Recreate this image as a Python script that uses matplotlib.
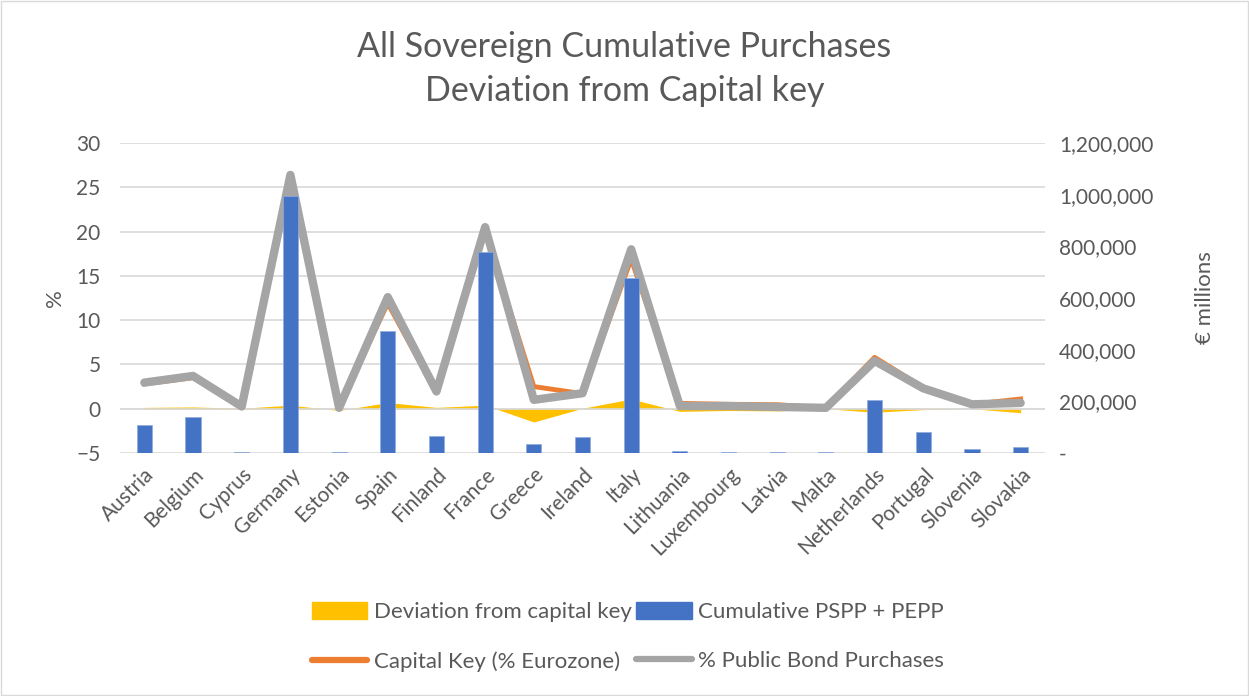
import matplotlib
matplotlib.use("Agg")
import matplotlib.pyplot as plt
import numpy as np
from matplotlib.ticker import FuncFormatter, FixedLocator
from matplotlib.patches import Patch
from matplotlib.lines import Line2D

countries = ["Austria", "Belgium", "Cyprus", "Germany", "Estonia", "Spain", "Finland",
             "France", "Greece", "Ireland", "Italy", "Lithuania", "Luxembourg", "Latvia",
             "Malta", "Netherlands", "Portugal", "Slovenia", "Slovakia"]
cumulative = [108000, 139000, 5000, 995000, 2000, 472000, 66000, 779000, 35000, 63000,
              678000, 7000, 5000, 5000, 2000, 205000, 81000, 15000, 23000]
capital_key = [2.8, 3.5, 0.2, 26.0, 0.3, 11.9, 1.8, 20.1, 2.5, 1.7, 16.9, 0.6, 0.5, 0.45,
               0.1, 5.8, 2.4, 0.5, 1.1]
public_pct = [2.95, 3.7, 0.25, 26.4, 0.1, 12.6, 1.95, 20.5, 1.0, 1.75, 18.0, 0.3, 0.3, 0.2,
              0.1, 5.4, 2.3, 0.5, 0.65]
deviation = [p - c for p, c in zip(public_pct, capital_key)]

left_ticks = [-5, 0, 5, 10, 15, 20, 25, 30]
right_ticks = [0, 200000, 400000, 600000, 800000, 1000000, 1200000]

text_col = "#595959"
fam = ["Lato", "DejaVu Sans"]

fig = plt.figure(figsize=(12.49, 6.96), dpi=100)
ax = fig.add_axes([120/1249, 1-453/696, 925/1249, 310/696])
ax2 = ax.twinx()

x = np.arange(len(countries))

ax2.bar(x, cumulative, width=0.31, color="#4472C4", edgecolor="#8FAADC", linewidth=0.5, zorder=2)
ax2.set_ylim(0, 1200000)

ax.set_zorder(ax2.get_zorder() - 1)
ax.patch.set_visible(False)
fig.patch.set_facecolor("white")

ax3 = ax.twinx()
ax3.set_ylim(-5, 30)
ax3.axis("off")
ax3.fill_between(x, 0, deviation, color="#FFC000", linewidth=0, zorder=1)
ax3.axhline(0, color="#D9D9D9", lw=1.2, zorder=2)
ax3.plot(x, capital_key, color="#ED7D31", lw=3.5, solid_joinstyle="round", zorder=3)
ax3.plot(x, public_pct, color="#A5A5A5", lw=6, solid_joinstyle="round",
         solid_capstyle="round", zorder=4)

ax.set_ylim(-5, 30)
ax.set_xlim(-0.5, len(countries) - 0.5)
ax.yaxis.set_major_locator(FixedLocator(left_ticks))
ax.grid(axis="y", color="#D9D9D9", lw=1.2)
ax.set_axisbelow(True)
ax2.yaxis.set_major_locator(FixedLocator(right_ticks))
ax2.yaxis.set_major_formatter(FuncFormatter(lambda v, p: "-" if v == 0 else f"{int(v):,}"))

ax.set_xticks(x)
ax.set_xticklabels(countries, rotation=45, ha="right", rotation_mode="anchor",
                   fontsize=15, color=text_col, family=fam)

for a in (ax, ax2):
    for s in a.spines.values():
        s.set_visible(False)
    a.tick_params(length=0, labelsize=15, colors=text_col)
    for lab in a.get_yticklabels():
        lab.set_family(fam)

ax.tick_params(axis="x", pad=8)
ax.tick_params(axis="y", pad=14)
ax2.tick_params(axis="y", pad=10)

ax.set_ylabel("%", fontsize=16, color=text_col, family=fam, labelpad=8)
ax2.set_ylabel("€ millions", fontsize=16, color=text_col, family=fam, labelpad=30)

fig.text(0.5, 1-47/696, "All Sovereign Cumulative Purchases", ha="center", va="center",
         fontsize=24.5, color=text_col, family=fam)
fig.text(0.5, 1-91/696, "Deviation from Capital key", ha="center", va="center",
         fontsize=24.5, color=text_col, family=fam)

handles = [Patch(color="#FFC000"),
           Line2D([], [], color="#ED7D31", lw=4.5, solid_capstyle="round"),
           Patch(color="#4472C4"),
           Line2D([], [], color="#A5A5A5", lw=4.5, solid_capstyle="round")]
labels = ["Deviation from capital key", "Capital Key (% Eurozone)",
          "Cumulative PSPP + PEPP", "% Public Bond Purchases"]
leg = fig.legend(handles, labels, ncol=2, loc="center", bbox_to_anchor=(628/1249, 1-637/696),
                 frameon=False, handlelength=2.5, handleheight=0.8, handletextpad=0.3,
                 columnspacing=0.2, labelspacing=1.3, prop={"family": fam, "size": 16})
for t in leg.get_texts():
    t.set_color(text_col)

fig.add_artist(plt.Rectangle((0.001, 0.001), 0.998, 0.998, transform=fig.transFigure,
                             fill=False, edgecolor="#D9D9D9", lw=1))

fig.savefig("out.png", dpi=100, facecolor="white")
